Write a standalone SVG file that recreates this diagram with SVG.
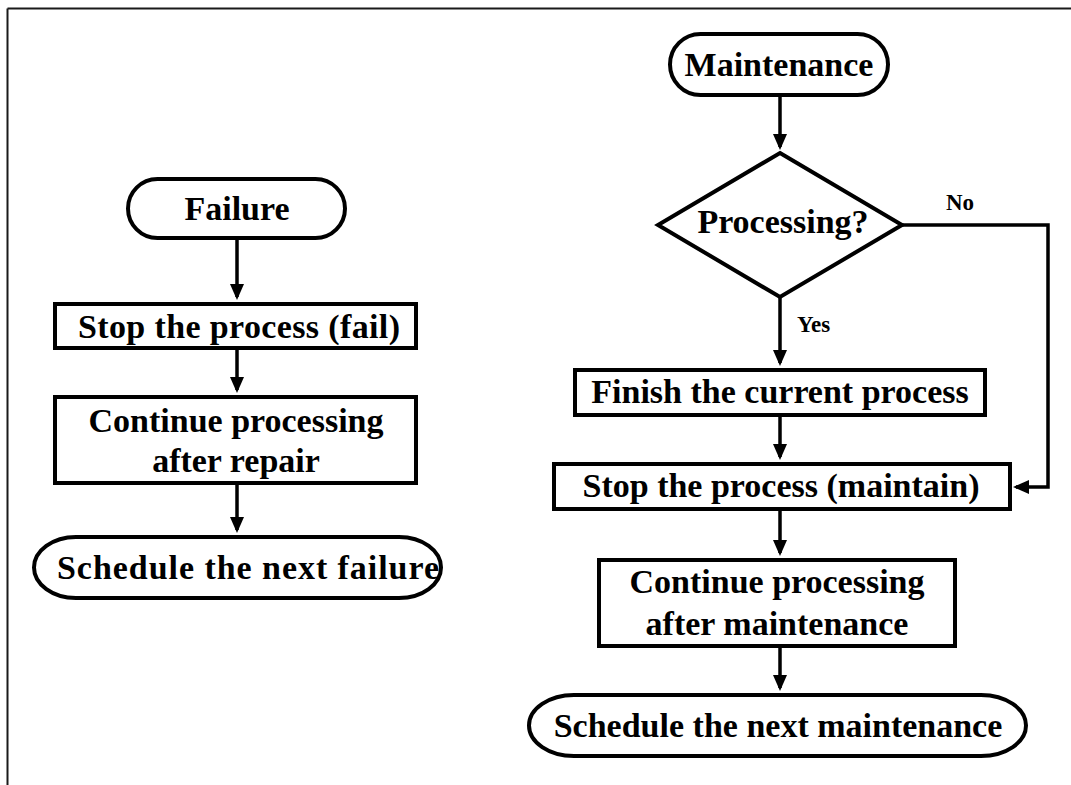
<svg xmlns="http://www.w3.org/2000/svg" width="1071" height="785" viewBox="0 0 1071 785">
  <style>
    .shape { fill: #ffffff; stroke: #000000; stroke-width: 4; }
    .label { font-family: "Liberation Serif", "Times New Roman", serif; font-weight: bold; font-size: 34px; fill: #000000; text-anchor: middle; }
    .small { font-family: "Liberation Serif", "Times New Roman", serif; font-weight: bold; font-size: 23px; fill: #000000; }
    .wire { fill: none; stroke: #000000; stroke-width: 3.5; }
    .frame { fill: none; stroke: #1a1a1a; stroke-width: 2; }
  </style>
  <defs>
    <marker id="arrow" viewBox="0 0 16 14" markerWidth="16" markerHeight="14" refX="13" refY="7" orient="auto" markerUnits="userSpaceOnUse">
      <path d="M0,0 L16,7 L0,14 z" fill="#000000"/>
    </marker>
  </defs>

  <rect width="1071" height="785" fill="#ffffff"/>

  <!-- page frame: top and left edges only -->
  <g id="frame">
    <line class="frame" x1="7.5" y1="8.5" x2="1071" y2="8.5"/>
    <line class="frame" x1="7.5" y1="8.5" x2="7.5" y2="785"/>
  </g>

  <!-- failure flow -->
  <g id="failure">
    <rect class="shape" x="128" y="179" width="217" height="59" rx="29.5" ry="29.5"/>
    <text class="label" x="237" y="220">Failure</text>
  </g>
  <g id="stop-fail">
    <rect class="shape" x="55" y="304" width="361" height="44"/>
    <text class="label" x="239" y="338" textLength="322" lengthAdjust="spacing">Stop the process (fail)</text>
  </g>
  <g id="continue-repair">
    <rect class="shape" x="55" y="397" width="361" height="86"/>
    <text class="label" x="236" y="432">Continue processing</text>
    <text class="label" x="236" y="472">after repair</text>
  </g>
  <g id="schedule-failure">
    <rect class="shape" x="34" y="537" width="407" height="61" rx="42" ry="30.5"/>
    <text class="label" x="248" y="579" textLength="382" lengthAdjust="spacing">Schedule the next failure</text>
  </g>

  <!-- maintenance flow -->
  <g id="maintenance">
    <rect class="shape" x="670" y="34" width="218" height="61" rx="30.5" ry="30.5"/>
    <text class="label" x="779" y="76">Maintenance</text>
  </g>
  <g id="processing">
    <polygon class="shape" points="780,153 902,225 780,297 658,225"/>
    <text class="label" x="783" y="233">Processing?</text>
  </g>
  <g id="finish-current">
    <rect class="shape" x="575" y="370" width="410" height="45"/>
    <text class="label" x="780" y="403">Finish the current process</text>
  </g>
  <g id="stop-maintain">
    <rect class="shape" x="554" y="464" width="456" height="45"/>
    <text class="label" x="781" y="497">Stop the process (maintain)</text>
  </g>
  <g id="continue-maintenance">
    <rect class="shape" x="599" y="560" width="356" height="86"/>
    <text class="label" x="777" y="593">Continue processing</text>
    <text class="label" x="777" y="635">after maintenance</text>
  </g>
  <g id="schedule-maintenance">
    <rect class="shape" x="529" y="695" width="497" height="61" rx="45" ry="30.5"/>
    <text class="label" x="778" y="737">Schedule the next maintenance</text>
  </g>

  <!-- connectors -->
  <g id="connectors">
    <line class="wire" x1="237" y1="240" x2="237" y2="297" marker-end="url(#arrow)"/>
    <line class="wire" x1="237" y1="350" x2="237" y2="390" marker-end="url(#arrow)"/>
    <line class="wire" x1="237" y1="485" x2="237" y2="530" marker-end="url(#arrow)"/>

    <line class="wire" x1="780" y1="97" x2="780" y2="147" marker-end="url(#arrow)"/>
    <line class="wire" x1="780" y1="297" x2="780" y2="363" marker-end="url(#arrow)"/>
    <line class="wire" x1="780" y1="417" x2="780" y2="457" marker-end="url(#arrow)"/>
    <line class="wire" x1="780" y1="511" x2="780" y2="553" marker-end="url(#arrow)"/>
    <line class="wire" x1="780" y1="648" x2="780" y2="688" marker-end="url(#arrow)"/>
    <polyline class="wire" points="902,225 1048,225 1048,487 1016,487" marker-end="url(#arrow)"/>

    <text class="small" x="946" y="210">No</text>
    <text class="small" x="797" y="332">Yes</text>
  </g>
</svg>
